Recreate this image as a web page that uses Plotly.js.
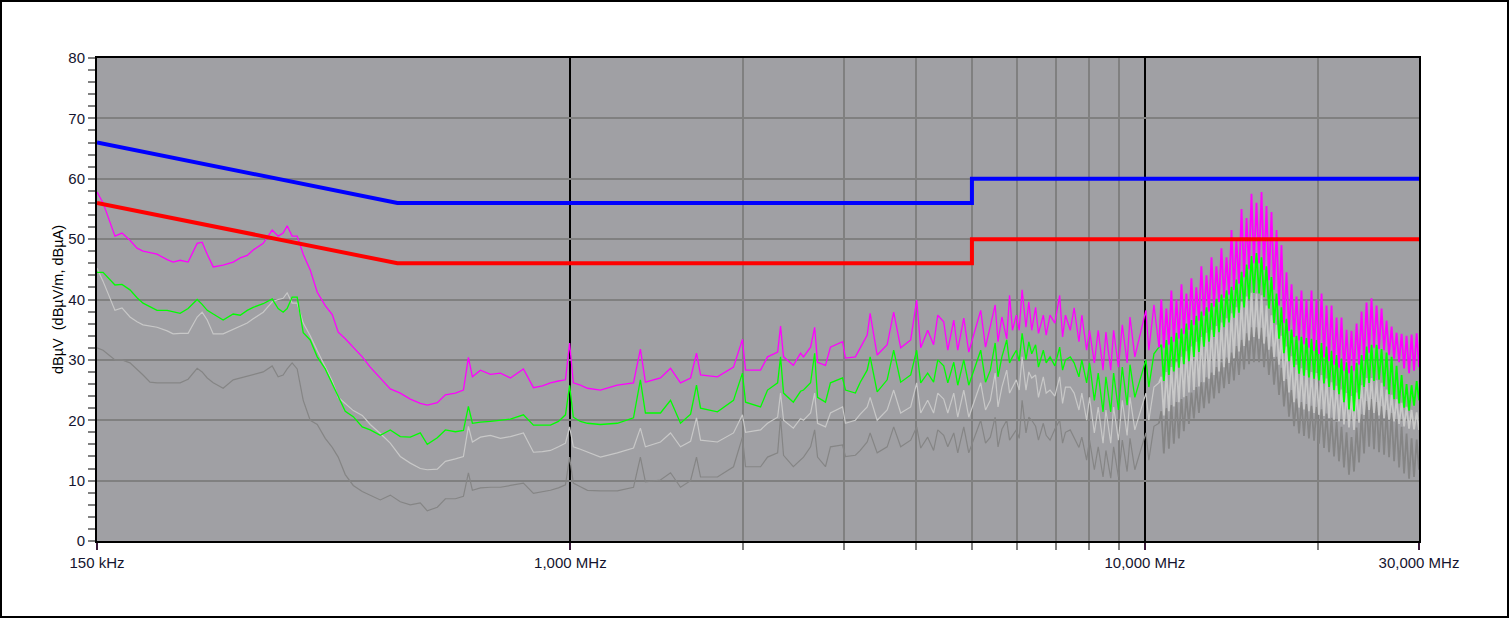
<!DOCTYPE html>
<html><head><meta charset="utf-8">
<script src="https://cdn.plot.ly/plotly-3.0.1.min.js"></script>
<style>
html,body{margin:0;padding:0;background:#fff;}
#wrap{position:relative;width:1509px;height:618px;}
#chart{width:1509px;height:618px;}
#frame{position:absolute;left:0;top:0;width:1509px;height:618px;box-sizing:border-box;border:2px solid #000;pointer-events:none;}
</style>
</head><body>
<div id="wrap"><div id="chart"></div><div id="frame"></div></div>
<script>
// ---- frequency sweep (MHz) ----
const freqLow = [
  0.150,0.1537,0.1612,0.1658,0.1712,0.1761,0.1804,0.1855,0.1908,0.1987,
  0.2035,0.2093,0.2161,0.2241,0.2286,0.2333,0.2390,0.2487,0.2589,0.2663,
  0.2739,0.2805,0.2920,0.3027,0.3100,0.3163,0.3214,0.3279,0.3346,0.3428,
  0.3525,0.3626,0.3744,0.3851,0.3944,0.4057,0.4189,0.4343,0.4484,0.4668,
  0.4859,0.5058,0.5265,0.5480,0.5636,0.5867,0.6060,0.6308,0.6514,0.6646,
  0.6753,0.6974,0.7259,0.7556,0.7865,0.8286,0.8625,0.8942,0.9234,0.9534,
  0.9806,0.997,1.012,1.041,1.071,1.128,1.207,1.288,1.324,1.351,
  1.435,1.494,1.555,1.619,1.658,1.685,1.803,1.923,1.993,2.018,
  2.143,2.204,2.295,2.322,2.350,2.444,2.516,2.546,2.619,2.662,
  2.693,2.780,2.836,2.977,3.012,3.134,3.196,3.286,3.325,3.420,
  3.560,3.654,3.758,3.912,4.007,4.072,4.187,4.288,4.360,4.465,
  4.539,4.649,4.724,4.839,4.937,5.179,5.280,5.383,5.488,5.551,
  5.638,5.748,5.814,5.882,5.974,6.043,6.114,6.209,6.281,6.354,
  6.453,6.528,6.656,6.733,6.838,6.971,7.107,7.190,7.274,7.415,
  7.531,7.678,7.767,7.918,8.010,8.167,8.294,8.456,8.554,8.721,
  8.822,8.994,9.135,9.313,9.421,9.605,10.04,10.16,10.37,10.58
];
const freqComb = [
  10.68,10.79,10.90,11.01,11.12,11.23,11.35,11.46,11.58,11.69,
  11.81,11.93,12.05,12.17,12.29,12.42,12.54,12.67,12.80,12.93,
  13.06,13.19,13.32,13.46,13.59,13.73,13.87,14.01,14.15,14.29,
  14.43,14.58,14.73,14.88,15.03,15.18,15.33,15.48,15.64,15.80,
  15.96,16.12,16.28,16.44,16.61,16.78,16.95,17.12,17.29,17.46,
  17.64,17.82,18.00,18.18,18.36,18.55,18.73,18.92,19.11,19.30,
  19.50,19.70,19.89,20.09,20.30,20.50,20.71,20.92,21.13,21.34,
  21.56,21.77,21.99,22.21,22.44,22.66,22.89,23.12,23.36,23.59,
  23.83,24.07,24.31,24.56,24.80,25.05,25.31,25.56,25.82,26.08,
  26.34,26.61,26.88,27.15,27.42,27.70,27.98,28.26,28.54,28.83,
  29.12,29.41,29.72,30.0
];

// ---- magenta trace (dBµV) ----
const magentaLow = [
  57.8,56.0,50.5,51.0,49.8,48.5,48.0,47.7,47.5,46.6,
  46.2,46.5,46.2,49.3,49.5,47.5,45.4,45.7,46.2,46.9,
  47.3,48.2,49.3,51.5,50.5,51.0,52.2,50.5,50.5,47.5,
  44.9,41.2,39.0,37.5,34.6,33.5,32.1,30.5,28.8,27.0,
  25.2,24.5,23.5,22.8,22.5,22.9,24.2,24.5,25.0,30.4,
  27.2,28.3,27.6,27.8,27.0,28.5,25.4,25.7,26.2,26.5,
  26.7,32.8,26.2,25.8,25.3,25.0,25.8,26.2,31.8,26.3,
  27.0,28.6,26.2,27.0,31.1,27.5,27.2,28.8,33.4,28.3,
  28.3,30.5,31.3,35.6,30.5,29.1,31.1,30.5,32.1,35.4,
  29.6,29.1,32.1,33.0,30.3,30.5,32.1,34.1,37.7,30.8,
  32.5,37.9,32.0,33.3,39.9,32.0,34.9,32.5,37.4,36.3,
  31.6,36.6,31.6,36.9,31.3,38.2,32.1,35.8,39.1,33.0,
  37.1,33.5,40.7,34.9,37.4,34.9,41.6,35.4,39.6,34.9,
  38.7,34.4,37.4,34.1,37.4,36.1,40.7,33.8,37.4,34.9,
  38.6,33.0,37.4,31.6,34.9,29.5,34.9,28.3,34.6,28.3,
  34.9,28.8,35.8,29.5,37.1,30.5,38.2,31.6,39.1,32.1
];
const magentaComb = [
  40.0,32.0,38.5,32.5,41.5,33.0,40.0,33.5,42.5,34.3,
  41.0,35.0,43.5,35.8,42.0,36.5,45.5,37.3,44.0,38.0,
  47.0,38.8,45.5,39.6,48.5,40.3,47.0,40.8,51.5,41.6,
  50.0,42.6,55.0,43.7,53.5,45.0,57.5,46.0,56.0,46.0,
  57.8,44.9,55.5,43.2,54.5,41.6,51.5,39.0,49.0,36.1,
  44.5,34.8,42.5,33.8,40.5,33.2,41.5,32.6,40.0,32.0,
  41.5,31.5,40.0,31.0,41.0,30.4,39.0,29.8,39.0,29.2,
  37.0,28.7,37.0,28.2,35.0,27.8,34.8,28.2,36.0,29.2,
  38.0,30.0,39.5,31.2,40.2,32.0,39.0,31.8,38.5,31.6,
  36.5,30.8,35.5,30.2,34.5,29.6,34.3,28.6,34.0,27.8,
  34.2,28.2,34.4,28.8
];

// ---- green trace ----
const greenLow = [
  44.5,44.5,42.4,42.5,41.6,40.3,39.4,38.8,38.2,38.2,
  38.0,37.7,38.5,40.0,39.2,38.2,37.6,36.6,37.6,37.4,
  38.2,38.7,39.3,40.1,38.5,37.9,38.5,40.4,40.4,34.5,
  33.3,30.5,28.5,26.0,23.8,21.5,20.6,18.9,18.4,17.5,
  18.4,17.3,17.2,17.9,16.0,17.1,18.4,18.1,18.3,22.3,
  19.5,19.7,19.8,20.0,20.2,20.9,19.2,19.2,19.2,19.8,
  20.9,25.8,20.5,19.8,19.5,19.3,19.5,20.4,26.7,21.2,
  21.2,23.3,19.5,21.0,25.8,22.0,21.4,23.3,27.8,23.0,
  22.2,25.0,26.2,30.5,24.5,23.0,24.8,25.0,26.2,31.1,
  23.8,23.0,26.2,27.0,25.0,24.5,26.3,28.3,30.5,24.7,
  26.7,31.6,26.3,27.5,31.6,26.2,27.8,26.3,30.0,29.0,
  26.2,29.6,25.8,30.0,25.8,31.6,26.3,28.3,32.8,27.2,
  30.5,33.3,29.5,30.5,31.6,29.8,34.4,30.0,33.0,31.0,
  32.5,28.8,31.6,29.5,30.5,29.0,32.1,28.3,30.0,30.5,
  29.5,27.2,30.0,26.2,29.5,23.3,27.8,21.4,27.2,21.4,
  27.8,21.7,28.8,22.5,29.2,23.8,30.0,25.5,31.0,32.1
];
const greenComb = [
  32.5,26.5,33.3,27.5,33.8,28.1,34.5,28.7,35.2,29.3,
  36.0,29.8,36.6,30.5,37.3,31.3,38.0,32.2,38.7,33.0,
  39.4,33.8,40.1,34.6,40.8,35.4,41.5,36.2,42.1,37.0,
  43.3,37.8,44.6,38.7,45.8,40.0,47.2,41.1,47.7,41.0,
  47.0,40.4,45.5,38.5,43.7,36.1,41.0,33.5,38.7,31.1,
  36.8,29.8,35.0,28.8,34.0,27.7,33.8,27.4,33.6,27.1,
  33.5,26.9,33.3,26.6,32.8,26.1,32.2,25.5,31.5,25.0,
  30.8,24.3,30.2,23.0,29.6,21.8,29.0,21.5,29.5,23.5,
  30.8,25.5,32.2,26.2,32.5,26.5,32.5,26.7,31.8,25.6,
  31.2,24.3,30.5,23.5,29.0,22.8,27.5,22.1,26.0,21.6,
  25.8,22.4,26.5,23.3
];

// ---- light grey trace ----
const silverLow = [
  45.2,43.0,38.2,38.6,37.1,36.3,35.8,35.6,35.4,34.8,
  34.3,34.4,34.4,37.1,37.9,36.6,34.3,34.3,35.1,35.6,
  36.1,36.8,37.9,39.6,40.0,40.2,41.1,39.4,39.4,36.1,
  34.0,31.5,28.8,26.5,23.8,22.8,21.6,20.8,19.3,17.8,
  16.2,14.0,12.9,12.0,11.8,11.9,13.2,13.6,14.0,19.0,
  16.4,17.2,17.5,17.0,17.3,17.9,14.7,14.8,15.0,15.6,
  16.2,18.9,15.6,15.2,14.7,13.9,14.6,15.4,18.7,15.6,
  16.4,17.9,15.6,16.5,20.4,16.7,16.4,17.9,20.9,18.0,
  18.4,19.5,20.5,24.5,20.0,18.7,20.3,20.0,21.2,24.5,
  19.5,18.9,21.2,22.2,19.5,20.0,21.0,22.2,23.8,20.0,
  21.7,25.0,21.2,22.2,26.2,21.2,23.3,21.2,24.5,23.5,
  21.2,24.5,20.5,25.0,20.5,26.2,21.7,23.3,27.8,22.2,
  25.5,28.3,24.5,25.5,26.7,25.0,30.5,25.0,28.0,27.0,
  27.5,23.8,27.2,24.5,25.0,24.0,27.2,22.8,25.5,25.5,
  24.5,21.7,24.5,20.0,23.8,17.9,22.2,16.2,21.7,16.2,
  22.2,16.7,23.3,17.5,23.8,18.4,24.5,20.0,25.5,26.2
];
const silverComb = [
  27.2,20.8,28.0,21.5,28.8,22.3,29.6,23.0,30.5,23.8,
  31.4,24.6,32.2,25.0,33.0,25.6,33.8,26.3,34.5,26.9,
  35.0,27.5,35.6,28.1,36.2,28.8,36.9,29.5,37.7,30.3,
  38.7,31.4,39.6,32.3,40.5,33.2,41.1,33.8,41.0,33.5,
  40.7,32.7,39.0,31.7,37.4,30.5,35.8,29.2,34.0,26.5,
  32.2,24.6,30.6,23.0,29.2,22.1,28.6,21.8,28.3,21.5,
  28.0,21.2,27.8,20.9,27.5,20.7,26.9,20.4,26.3,20.1,
  25.7,19.8,25.1,19.3,24.5,18.8,24.0,18.4,24.6,19.6,
  25.8,20.9,27.0,21.7,27.0,21.2,26.6,20.8,26.2,20.4,
  25.1,20.1,24.2,19.8,23.5,19.4,22.9,19.0,22.2,18.6,
  21.7,18.5,21.3,18.4
];

// ---- dark grey trace ----
const greyLow = [
  32.0,31.6,30.0,30.0,29.5,28.5,27.5,26.3,26.2,26.2,
  26.2,26.2,26.8,28.6,28.0,27.0,26.2,25.3,26.7,27.0,
  27.2,27.5,28.0,29.0,27.2,27.5,28.5,29.5,28.5,23.3,
  20.0,19.3,17.0,15.5,13.9,11.0,9.2,8.2,7.6,6.8,
  7.6,6.5,6.0,6.3,5.0,5.6,7.0,7.0,7.4,11.3,
  8.4,8.8,8.9,8.9,9.2,9.6,7.9,8.2,8.4,8.8,
  9.3,13.9,9.6,9.0,8.4,8.3,8.3,8.9,13.9,9.8,
  10.1,11.3,8.9,10.0,13.9,10.6,10.6,12.3,17.2,12.3,
  12.3,13.9,14.6,20.4,14.2,12.3,13.5,13.9,15.6,18.4,
  13.9,12.3,15.6,15.9,14.0,14.2,15.0,16.4,17.9,14.6,
  15.6,18.9,15.6,16.7,18.9,15.4,17.2,15.0,18.4,17.5,
  15.6,17.9,14.6,18.9,14.6,20.0,16.2,17.2,20.5,15.6,
  18.5,20.0,16.7,17.5,18.4,17.0,23.3,17.9,20.5,20.0,
  19.0,16.7,19.5,17.5,16.7,18.5,20.0,16.2,18.0,18.4,
  17.0,15.5,17.2,13.4,16.7,11.8,15.6,10.6,15.0,10.4,
  15.6,10.6,16.7,11.5,17.0,11.8,17.9,13.4,19.0,19.5
];
const greyComb = [
  21.5,14.5,22.0,15.3,22.5,16.1,23.0,17.0,23.5,18.2,
  24.0,19.4,24.6,20.3,25.5,21.2,26.3,22.0,27.1,22.8,
  27.9,23.6,28.8,24.5,29.6,25.3,30.4,26.0,31.2,26.6,
  32.3,27.5,33.3,28.4,34.4,29.3,35.4,29.6,35.4,29.6,
  35.3,28.8,33.8,27.5,32.2,25.9,30.5,24.2,28.7,22.3,
  26.8,20.6,25.0,19.0,23.6,17.8,23.0,17.4,22.7,17.0,
  22.4,16.6,22.2,16.1,21.8,15.4,21.1,14.7,20.4,14.0,
  19.7,13.2,18.9,12.2,18.0,11.0,17.2,11.5,18.8,13.0,
  21.0,14.5,23.2,15.6,23.5,15.2,23.0,14.7,22.3,14.3,
  21.7,13.9,21.2,13.2,20.0,12.2,18.9,11.2,17.8,10.3,
  17.0,10.6,16.8,11.8
];

// ---- limit lines ----
const limitFreq = [0.15, 0.5, 5, 5, 30];
const qpLimit = [66, 56, 56, 60, 60];
const avLimit = [56, 46, 46, 50, 50];

// ---- axis labels ----
const xTickVals = [0.15, 1, 10, 30];
const xTickText = ['150 kHz', '1,000 MHz', '10,000 MHz', '30,000 MHz'];
const xMinorVals = [2, 3, 4, 5, 6, 7, 8, 9, 20];
const yTitle = 'dBµV\u00a0 (dBµV/m, dBµA)';

const nLow = freqLow.length;
function pair(low, comb, color, wLow, wComb) {
  return [
    {x: freqLow, y: low, type: 'scatter', mode: 'lines',
     line: {color: color, width: wLow}, hoverinfo: 'skip'},
    {x: [freqLow[nLow - 1]].concat(freqComb), y: [low[nLow - 1]].concat(comb),
     type: 'scatter', mode: 'lines', line: {color: color, width: wComb}, hoverinfo: 'skip'}
  ];
}
const data = [].concat(
  pair(greyLow, greyComb, '#858585', 1.2, 1.8),
  pair(silverLow, silverComb, '#c8c8c8', 1.2, 1.8),
  pair(greenLow, greenComb, '#00ff00', 1.3, 1.8),
  pair(magentaLow, magentaComb, '#ff00ff', 1.3, 1.8),
  [
    {x: limitFreq, y: qpLimit, type: 'scatter', mode: 'lines', line: {color: '#0000ff', width: 4}},
    {x: limitFreq, y: avLimit, type: 'scatter', mode: 'lines', line: {color: '#ff0000', width: 4}}
  ]
);

const tickFont = {family: 'Arial, "Liberation Sans", sans-serif', size: 15, color: '#14142e'};
const layout = {
  width: 1509, height: 618,
  margin: {l: 97, r: 90, t: 58, b: 77, pad: 0},
  paper_bgcolor: '#ffffff',
  plot_bgcolor: '#a0a0a4',
  showlegend: false,
  xaxis: {
    type: 'log',
    range: [Math.log10(0.15), Math.log10(30)],
    tickmode: 'array', tickvals: xTickVals, ticktext: xTickText,
    ticks: 'outside', ticklen: 7, tickwidth: 2, tickcolor: '#3a1a3a',
    showgrid: true, gridcolor: '#000000', gridwidth: 2,
    minor: {tickmode: 'array', tickvals: xMinorVals, ticks: 'outside', ticklen: 7,
            tickwidth: 2, tickcolor: '#808080', showgrid: true, gridcolor: '#808080', gridwidth: 2},
    showline: true, linecolor: '#000000', linewidth: 2, mirror: true,
    zeroline: false, tickfont: tickFont, fixedrange: true
  },
  yaxis: {
    range: [0, 80], tickmode: 'linear', tick0: 0, dtick: 10,
    ticks: 'outside', ticklen: 7, tickwidth: 2, tickcolor: '#808080',
    showgrid: true, gridcolor: '#808080', gridwidth: 2,
    minor: {dtick: 2, ticks: 'outside', ticklen: 7, tickwidth: 2, tickcolor: '#808080', showgrid: false},
    showline: true, linecolor: '#000000', linewidth: 2, mirror: true,
    zeroline: false, tickfont: tickFont, fixedrange: true,
    title: {text: yTitle, font: {family: 'Arial, "Liberation Sans", sans-serif', size: 14.5, color: '#000000'}, standoff: 1}
  }
};
Plotly.newPlot('chart', data, layout, {displayModeBar: false, staticPlot: true});
</script>
</body></html>
